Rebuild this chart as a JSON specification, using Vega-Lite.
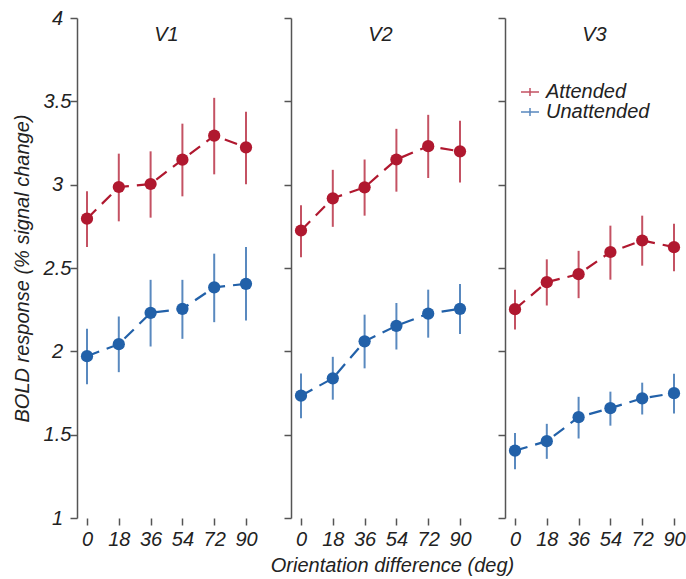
{
  "$schema": "https://vega.github.io/schema/vega-lite/v6.json",
  "padding": {"left": 12, "top": 8, "right": 0, "bottom": 2},
  "background": "white",
  "data": {"values": [
    {"area":"V1","deg":0,"cond":"Attended","mean":2.796,"lo":2.626,"hi":2.960},
    {"area":"V1","deg":18,"cond":"Attended","mean":2.986,"lo":2.780,"hi":3.186},
    {"area":"V1","deg":36,"cond":"Attended","mean":3.004,"lo":2.802,"hi":3.200},
    {"area":"V1","deg":54,"cond":"Attended","mean":3.150,"lo":2.930,"hi":3.366},
    {"area":"V1","deg":72,"cond":"Attended","mean":3.294,"lo":3.062,"hi":3.521},
    {"area":"V1","deg":90,"cond":"Attended","mean":3.224,"lo":3.002,"hi":3.438},
    {"area":"V1","deg":0,"cond":"Unattended","mean":1.971,"lo":1.803,"hi":2.135},
    {"area":"V1","deg":18,"cond":"Unattended","mean":2.043,"lo":1.875,"hi":2.209},
    {"area":"V1","deg":36,"cond":"Unattended","mean":2.231,"lo":2.029,"hi":2.429},
    {"area":"V1","deg":54,"cond":"Unattended","mean":2.255,"lo":2.075,"hi":2.429},
    {"area":"V1","deg":72,"cond":"Unattended","mean":2.384,"lo":2.175,"hi":2.586},
    {"area":"V1","deg":90,"cond":"Unattended","mean":2.405,"lo":2.185,"hi":2.626},
    {"area":"V2","deg":0,"cond":"Attended","mean":2.725,"lo":2.565,"hi":2.876},
    {"area":"V2","deg":18,"cond":"Attended","mean":2.918,"lo":2.747,"hi":3.089},
    {"area":"V2","deg":36,"cond":"Attended","mean":2.984,"lo":2.814,"hi":3.151},
    {"area":"V2","deg":54,"cond":"Attended","mean":3.151,"lo":2.958,"hi":3.335},
    {"area":"V2","deg":72,"cond":"Attended","mean":3.231,"lo":3.040,"hi":3.419},
    {"area":"V2","deg":90,"cond":"Attended","mean":3.200,"lo":3.013,"hi":3.384},
    {"area":"V2","deg":0,"cond":"Unattended","mean":1.734,"lo":1.599,"hi":1.867},
    {"area":"V2","deg":18,"cond":"Unattended","mean":1.838,"lo":1.710,"hi":1.967},
    {"area":"V2","deg":36,"cond":"Unattended","mean":2.060,"lo":1.898,"hi":2.220},
    {"area":"V2","deg":54,"cond":"Unattended","mean":2.153,"lo":2.011,"hi":2.290},
    {"area":"V2","deg":72,"cond":"Unattended","mean":2.226,"lo":2.082,"hi":2.370},
    {"area":"V2","deg":90,"cond":"Unattended","mean":2.255,"lo":2.104,"hi":2.404},
    {"area":"V3","deg":0,"cond":"Attended","mean":2.253,"lo":2.131,"hi":2.370},
    {"area":"V3","deg":18,"cond":"Attended","mean":2.415,"lo":2.275,"hi":2.552},
    {"area":"V3","deg":36,"cond":"Attended","mean":2.463,"lo":2.319,"hi":2.603},
    {"area":"V3","deg":54,"cond":"Attended","mean":2.596,"lo":2.430,"hi":2.754},
    {"area":"V3","deg":72,"cond":"Attended","mean":2.665,"lo":2.514,"hi":2.814},
    {"area":"V3","deg":90,"cond":"Attended","mean":2.625,"lo":2.481,"hi":2.765},
    {"area":"V3","deg":0,"cond":"Unattended","mean":1.404,"lo":1.293,"hi":1.510},
    {"area":"V3","deg":18,"cond":"Unattended","mean":1.461,"lo":1.355,"hi":1.565},
    {"area":"V3","deg":36,"cond":"Unattended","mean":1.605,"lo":1.477,"hi":1.727},
    {"area":"V3","deg":54,"cond":"Unattended","mean":1.659,"lo":1.554,"hi":1.758},
    {"area":"V3","deg":72,"cond":"Unattended","mean":1.718,"lo":1.621,"hi":1.812},
    {"area":"V3","deg":90,"cond":"Unattended","mean":1.749,"lo":1.627,"hi":1.865}
  ]},
  "config": {
    "font": "Liberation Sans",
    "view": {"stroke": null},
    "axis": {
      "grid": false,
      "labelFlush": false,
      "labelFont": "Liberation Sans",
      "labelFontStyle": "italic",
      "labelFontSize": 20,
      "labelColor": "#222222",
      "titleFont": "Liberation Sans",
      "titleFontStyle": "italic",
      "titleFontWeight": "normal",
      "titleFontSize": 20,
      "titleColor": "#222222",
      "tickColor": "#555555",
      "domainColor": "#555555",
      "tickWidth": 1.5,
      "domainWidth": 1.5,
      "tickSize": 7
    },
    "title": {"font": "Liberation Sans", "fontStyle": "italic", "fontWeight": "normal", "fontSize": 20, "color": "#222222"},
    "legend": {"labelFont": "Liberation Sans", "labelFontStyle": "italic", "labelFontSize": 20, "labelColor": "#222222"}
  },
  "spacing": 55,
  "bounds": "flush",
  "resolve": {"legend": {"color": "independent"}},
  "hconcat": [
    {
      "width": 159, "height": 500,
      "title": {"text": "V1", "offset": -37},
      "transform": [{"filter": "datum.area == 'V1'"}],
      "encoding": {
        "x": {"field": "deg", "type": "quantitative", "scale": {"domain": [0, 90]},
              "axis": {"values": [0,18,36,54,72,90], "title": null, "domain": false, "labelPadding": 4}},
        "color": {"field": "cond", "type": "nominal", "scale": {"domain": ["Attended","Unattended"], "range": ["#b0182f","#2261a9"]}, "legend": null}
      },
      "layer": [
        {"mark": {"type": "line", "strokeDash": [13, 8], "strokeWidth": 2.2},
         "encoding": {"y": {"field": "mean", "type": "quantitative", "scale": {"domain": [1, 4]},
           "axis": {"title": "BOLD response (% signal change)", "offset": 10, "values": [1,1.5,2,2.5,3,3.5,4], "format": "~g", "labelAlign": "center", "labelPadding": 13, "titlePadding": 11}}}},
        {"mark": {"type": "rule", "strokeWidth": 2, "opacity": 0.75},
         "encoding": {"y": {"field": "lo", "type": "quantitative"}, "y2": {"field": "hi"}}},
        {"mark": {"type": "circle", "size": 150, "opacity": 1},
         "encoding": {"y": {"field": "mean", "type": "quantitative"}}}
      ]
    },
    {
      "width": 159, "height": 500,
      "title": {"text": "V2", "offset": -28},
      "transform": [{"filter": "datum.area == 'V2'"}],
      "encoding": {
        "x": {"field": "deg", "type": "quantitative", "scale": {"domain": [0, 90]},
              "axis": {"values": [0,18,36,54,72,90], "title": "Orientation difference (deg)", "domain": false, "labelPadding": 4, "titlePadding": 6, "titleX": 91}},
        "color": {"field": "cond", "type": "nominal", "scale": {"domain": ["Attended","Unattended"], "range": ["#b0182f","#2261a9"]}, "legend": null}
      },
      "layer": [
        {"mark": {"type": "line", "strokeDash": [13, 8], "strokeWidth": 2.2},
         "encoding": {"y": {"field": "mean", "type": "quantitative", "scale": {"domain": [1, 4]},
           "axis": {"title": null, "labels": false, "offset": 10, "values": [1,1.5,2,2.5,3,3.5,4]}}}},
        {"mark": {"type": "rule", "strokeWidth": 2, "opacity": 0.75},
         "encoding": {"y": {"field": "lo", "type": "quantitative"}, "y2": {"field": "hi"}}},
        {"mark": {"type": "circle", "size": 150, "opacity": 1},
         "encoding": {"y": {"field": "mean", "type": "quantitative"}}}
      ]
    },
    {
      "width": 159, "height": 500,
      "title": {"text": "V3", "offset": -28},
      "transform": [{"filter": "datum.area == 'V3'"}],
      "encoding": {
        "x": {"field": "deg", "type": "quantitative", "scale": {"domain": [0, 90]},
              "axis": {"values": [0,18,36,54,72,90], "title": null, "domain": false, "labelPadding": 4}},
        "color": {"field": "cond", "type": "nominal", "scale": {"domain": ["Attended","Unattended"], "range": ["#b0182f","#2261a9"]},
          "legend": {"title": null, "orient": "none", "legendX": 5, "legendY": 64, "padding": 0, "rowPadding": 0, "labelOffset": 6,
            "symbolType": "M-1,0H1M0,-0.45V0.45", "symbolSize": 324, "symbolStrokeWidth": 1.5}}
      },
      "layer": [
        {"mark": {"type": "line", "strokeDash": [13, 8], "strokeWidth": 2.2},
         "encoding": {"y": {"field": "mean", "type": "quantitative", "scale": {"domain": [1, 4]},
           "axis": {"title": null, "labels": false, "offset": 10, "values": [1,1.5,2,2.5,3,3.5,4]}}}},
        {"mark": {"type": "rule", "strokeWidth": 2, "opacity": 0.75},
         "encoding": {"y": {"field": "lo", "type": "quantitative"}, "y2": {"field": "hi"}}},
        {"mark": {"type": "circle", "size": 150, "opacity": 1},
         "encoding": {"y": {"field": "mean", "type": "quantitative"}}}
      ]
    }
  ]
}
